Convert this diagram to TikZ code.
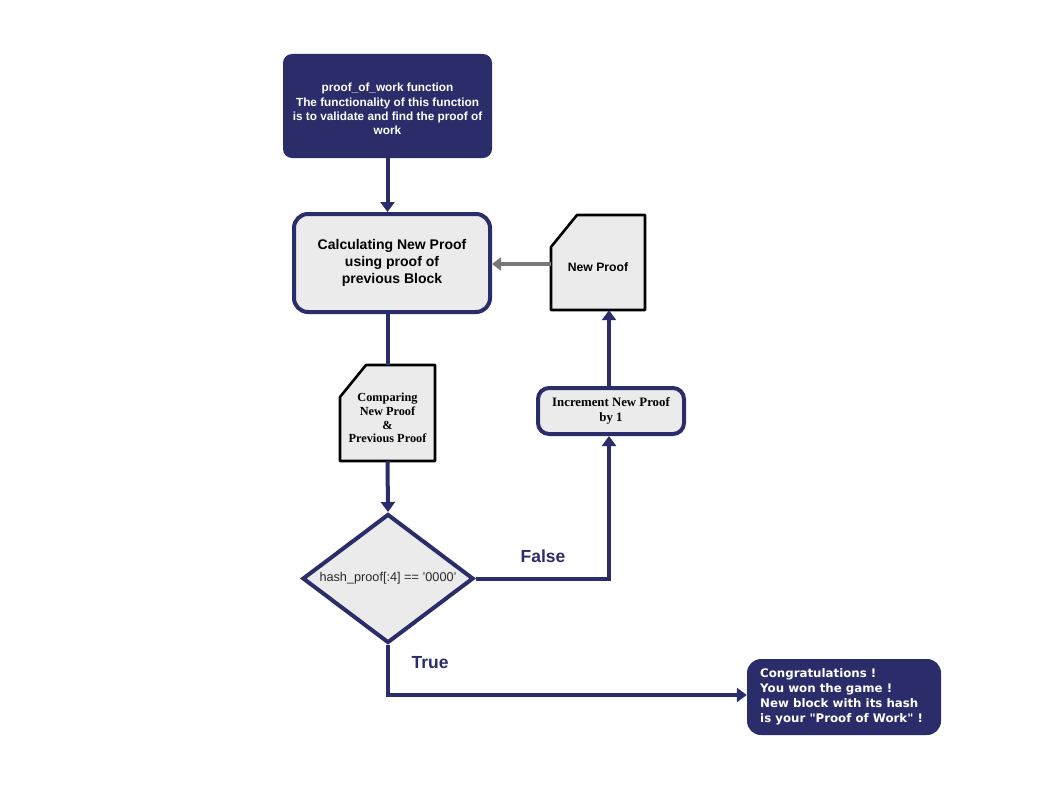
\documentclass[tikz,border=0pt]{standalone}
\usepackage{fontspec}
\setmainfont{Liberation Sans}
\newfontfamily\serifbold{Liberation Serif}
\newfontfamily\dejavu{DejaVu Sans}
\usetikzlibrary{arrows.meta,shapes.geometric}
\definecolor{navy}{RGB}{43,45,107}
\definecolor{boxgray}{RGB}{235,235,235}
\definecolor{arrowgray}{RGB}{120,120,120}
\definecolor{darktext}{RGB}{40,40,40}
\tikzset{
  darkbox/.style={rectangle, rounded corners=9pt, fill=navy, text=white, align=center, inner sep=0pt},
  procbox/.style={rectangle, rounded corners=14pt, draw=navy, line width=4pt, fill=boxgray, align=center, inner sep=0pt},
  docshape/.style={draw=black, line width=2.6pt, fill=boxgray, line join=round},
  decision/.style={diamond, draw=navy, line width=4pt, fill=boxgray, inner sep=0pt, aspect=1.33},
  flow/.style={draw=navy, line width=4pt},
  flowarrow/.style={flow, -{Triangle[width=14pt,length=10pt]}},
  grayarrow/.style={draw=arrowgray, line width=4pt, -{Triangle[width=13pt,length=9pt]}},
  branch/.style={text=navy, font=\bfseries\fontsize{17.5}{20}\selectfont},
  plainlabel/.style={inner sep=0pt, align=center},
}
\begin{document}
\begin{tikzpicture}[x=1pt,y=-1pt]
\useasboundingbox (0,0) rectangle (1058,800);

% start box
\node[darkbox, minimum width=209pt, minimum height=104pt] (start) at (387.5,106) {};
\node[plainlabel, text=white, font=\bfseries\fontsize{11.8}{14.2}\selectfont] (starttext) at (387.5,109)
  {proof\_of\_work function\\The functionality of this function\\is to validate and find the proof of\\work};

% proof calculation
\node[procbox, minimum width=196pt, minimum height=98pt,
      font=\bfseries\fontsize{14}{17}\selectfont] (calc) at (392,263)
  {Calculating New Proof\\using proof of\\previous Block};

% comparison document shape
\fill[boxgray] (340,397) -- (366,365) -- (435,365) -- (435,461) -- (340,461) -- cycle;
\draw[docshape] (340,397) -- (366,365) -- (435,365) -- (435,461) -- (340,461) -- cycle;
\node[minimum width=95pt, minimum height=96pt, inner sep=0pt] (cmp) at (387.5,413) {};
\node[plainlabel, font=\serifbold\bfseries\fontsize{12.3}{13.7}\selectfont] (cmptext) at (387.5,418)
  {Comparing\\New Proof\\\&\\Previous Proof};

% new proof document shape
\fill[boxgray] (551,247) -- (577,215) -- (645,215) -- (645,310) -- (551,310) -- cycle;
\draw[docshape] (551,247) -- (577,215) -- (645,215) -- (645,310) -- (551,310) -- cycle;
\node[minimum width=94pt, minimum height=95pt, inner sep=0pt] (newp) at (598,262.5) {};
\node[font=\bfseries\fontsize{12.2}{14}\selectfont] (newplbl) at (598,267) {New Proof};

% increment box
\node[procbox, rounded corners=11pt, minimum width=146pt, minimum height=46pt,
      font=\serifbold\bfseries\fontsize{12.8}{15}\selectfont] (inc) at (611,411)
  {Increment New Proof\\by 1};

% decision
\node[decision, minimum width=171pt, minimum height=129pt, text=darktext,
      font=\fontsize{12.7}{14}\selectfont] (dec) at (388,578.5)
  {hash\_proof[:4] == '0000'};

% final box
\node[darkbox, rounded corners=14pt, minimum width=194pt, minimum height=76pt] (won) at (844,697) {};
\node[anchor=west, text=white, align=left, inner sep=0pt,
      font=\dejavu\bfseries\fontsize{11.8}{15}\selectfont] (wontext) at (760,697)
  {Congratulations !\\You won the game !\\New block with its hash\\is your "Proof of Work" !};

% connectors
\draw[flowarrow] (start.south) -- (calc.north -| start.south);
\draw[flow] (calc.south -| cmp.north) -- (cmp.north);
\draw[flowarrow] (cmp.south) -- (dec.north);
\coordinate (falsecorner) at (609,578.5);
\draw[flowarrow] (dec.east) -- (falsecorner) -- (inc.south -| falsecorner);
\draw[flowarrow] (inc.north -| falsecorner) -- (newp.south -| falsecorner);
\draw[grayarrow] (newp.west |- 0,264) -- (calc.east |- 0,264);
\coordinate (truecorner) at (388,695);
\draw[flowarrow] (dec.south) -- (truecorner) -- (won.west |- truecorner);

% branch labels
\node[branch] (flbl) at (543,556) {False};
\node[branch] (tlbl) at (430,663) {True};
\end{tikzpicture}
\end{document}
